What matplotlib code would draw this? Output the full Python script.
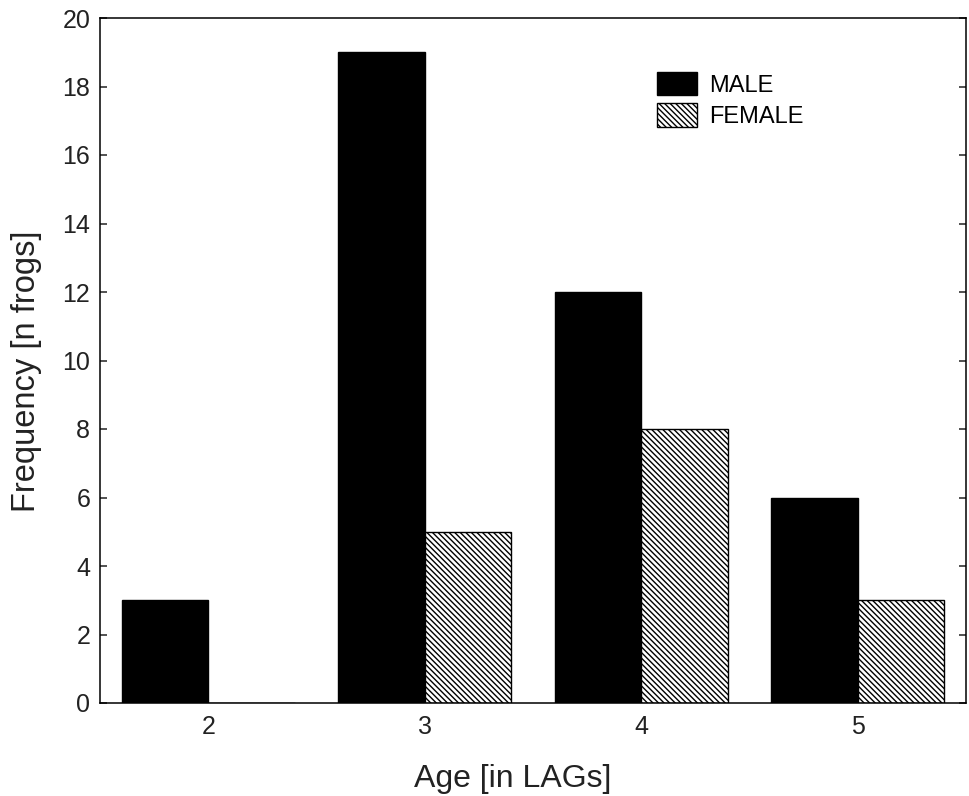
import numpy as np
import matplotlib.pyplot as plt

plt.rcParams['font.family'] = ['Liberation Sans', 'DejaVu Sans']
plt.rcParams['hatch.linewidth'] = 1.0

ages = [2, 3, 4, 5]
male = [3, 19, 12, 6]
female = [0, 5, 8, 3]

fig = plt.figure(figsize=(9.69, 7.96), dpi=100)
ax = fig.add_axes([100 / 969, 1 - 703 / 796, 866 / 969, 685 / 796])

x = np.array(ages)
w = 0.4
ax.bar(x - w / 2, male, width=w, color='black', edgecolor='black',
       linewidth=1.0, label='MALE')
ax.bar(x + w / 2, female, width=w, color='white', edgecolor='black',
       linewidth=1.0, hatch='\\\\\\\\\\\\', label='FEMALE')

ax.set_xlim(1.5, 5.5)
ax.set_ylim(0, 20)
ax.set_xticks(ages)
ax.set_yticks(range(0, 21, 2))
ax.tick_params(axis='x', length=0, labelsize=18, pad=9, colors='#222222')
ax.tick_params(axis='y', direction='in', length=5, width=1.1, right=True,
               labelsize=18, pad=7, colors='#222222')
for s in ax.spines.values():
    s.set_linewidth(1.1)

ax.set_xlabel('Age [in LAGs]', fontsize=23, labelpad=18, color='#222222')
ax.set_ylabel('Frequency [n frogs]', fontsize=23.5, labelpad=15, color='#222222')
ax.xaxis.label.set_x(0.476)
ax.yaxis.label.set_y(0.484)

ax.legend(loc='upper left', bbox_to_anchor=(657 / 969, 1 - 72 / 796),
          bbox_transform=fig.transFigure, frameon=False, fontsize=17,
          handlelength=1.7, handleheight=1.15, handletextpad=0.5,
          labelspacing=0.28, borderpad=0, borderaxespad=0)

plt.savefig('out.png', dpi=100)
plt.close()
